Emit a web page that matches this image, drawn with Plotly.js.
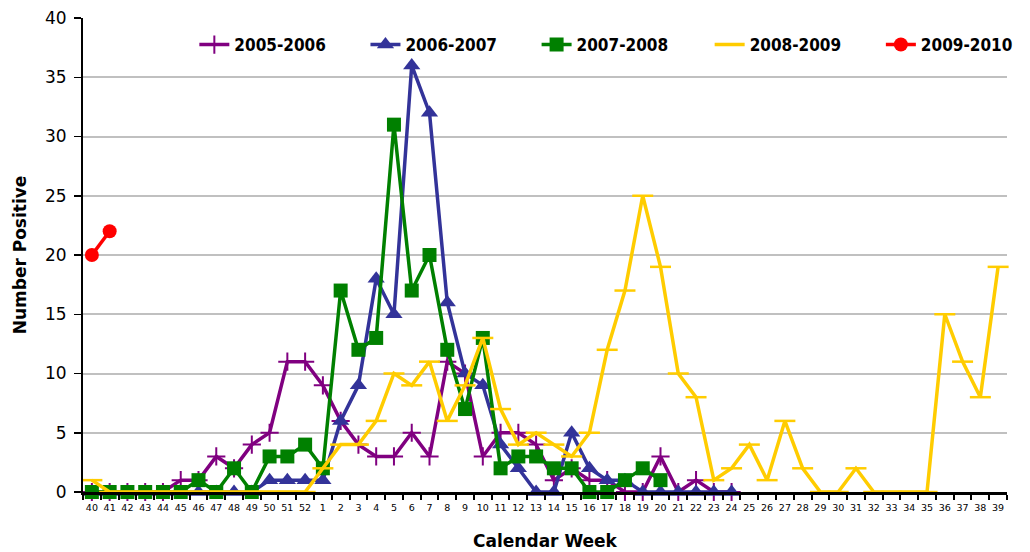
<!DOCTYPE html>
<html>
<head>
<meta charset="utf-8">
<script src="https://cdn.plot.ly/plotly-3.0.1.min.js"></script>
<style>html,body{margin:0;padding:0;background:#fff;}#chart{width:1030px;height:552px;}</style>
</head>
<body>
<div id="chart"></div>
<script>
const weeks = ["40","41","42","43","44","45","46","47","48","49","50","51","52",
  "1","2","3","4","5","6","7","8","9","10","11","12","13","14","15","16","17","18","19","20",
  "21","22","23","24","25","26","27","28","29","30","31","32","33","34","35","36","37","38","39"];

const s2005_2006 = [0,0,0,0,0,1,1,3,2,4,5,11,11,
  9,6,4,3,3,5,3,11,10,3,5,5,4,1,2,1,1,0,0,3,0,1,0,0];
const s2006_2007 = [0,0,0,0,0,0,0,0,0,0,1,1,1,
  1,6,9,18,15,36,32,16,10,9,4,2,0,0,5,2,1,1,0,0,0,0,0,0];
const s2007_2008 = [0,0,0,0,0,0,1,0,2,0,3,3,4,
  2,17,12,13,31,17,20,12,7,13,2,3,3,2,2,0,0,1,2,1];
const s2008_2009 = [1,0,0,0,0,0,0,0,0,0,0,0,0,
  2,4,4,6,10,9,11,6,9,13,7,4,5,4,3,5,12,17,25,19,10,8,1,2,4,1,6,2,0,0,2,0,0,0,0,15,11,8,19];
const s2009_2010 = [20,22];

const names = ["2005-2006","2006-2007","2007-2008","2008-2009","2009-2010"];
const series = [s2005_2006, s2006_2007, s2007_2008, s2008_2009, s2009_2010];
const colors = ["#800080","#333399","#008000","#FFCC00","#FF0000"];
const symbols = ["cross-thin-open","triangle-up","square","line-ew-open","circle"];
const sizes = [13,15,14,15,14];

const FONT = "DejaVu Sans, sans-serif";
const LEGFONT = "DejaVu Sans Condensed, DejaVu Sans, sans-serif";
const legendIds = ["legend","legend2","legend3","legend4","legend5"];
const legendX = [0.1205, 0.3057, 0.4909, 0.6782, 0.8635];

const traces = series.map((vals, i) => ({
  type: "scatter",
  mode: "lines+markers",
  name: names[i],
  legend: legendIds[i],
  x: weeks.slice(0, vals.length),
  y: vals,
  line: {color: colors[i], width: 3.5},
  marker: {symbol: symbols[i], size: sizes[i], color: colors[i],
           line: {color: colors[i], width: i === 0 ? 2 : (i === 3 ? 2.5 : 0)}},
  cliponaxis: false
}));

const layout = {
  width: 1030, height: 552,
  margin: {l: 83, r: 13, t: 18, b: 60},
  paper_bgcolor: "#fff", plot_bgcolor: "#fff",
  font: {family: FONT, color: "#000"},
  showlegend: true,
  xaxis: {
    type: "category", categoryorder: "array", categoryarray: weeks,
    range: [-0.5, 51.5],
    showline: true, linecolor: "#000", linewidth: 2.5,
    ticks: "outside", tickson: "boundaries", ticklen: 5, tickwidth: 2, tickcolor: "#000",
    ticklabelstandoff: 5,
    tickfont: {size: 9.5, color: "#000"},
    showgrid: false, zeroline: false, tickangle: 0,
    title: {text: "<b>Calendar Week</b>", font: {size: 17}, standoff: 23}
  },
  yaxis: {
    range: [0, 40], dtick: 5, tick0: 0,
    showline: true, linecolor: "#000", linewidth: 2,
    ticks: "outside", ticklen: 7, tickwidth: 1.5, tickcolor: "#000",
    ticklabelstandoff: 4,
    tickfont: {size: 17, color: "#000"},
    showgrid: true, gridcolor: "#c0c0c0", gridwidth: 2,
    zeroline: false,
    title: {text: "<b>Number Positive</b>", font: {size: 17}, standoff: 14}
  }
};
legendIds.forEach((id, i) => {
  layout[id] = {
    orientation: "h", x: legendX[i], xanchor: "left", y: 0.943, yanchor: "middle",
    font: {size: 17, family: LEGFONT, weight: "bold"},
    bgcolor: "rgba(255,255,255,0)", itemwidth: 30
  };
});

Plotly.newPlot("chart", traces, layout, {displayModeBar: false, staticPlot: true});
</script>
</body>
</html>
